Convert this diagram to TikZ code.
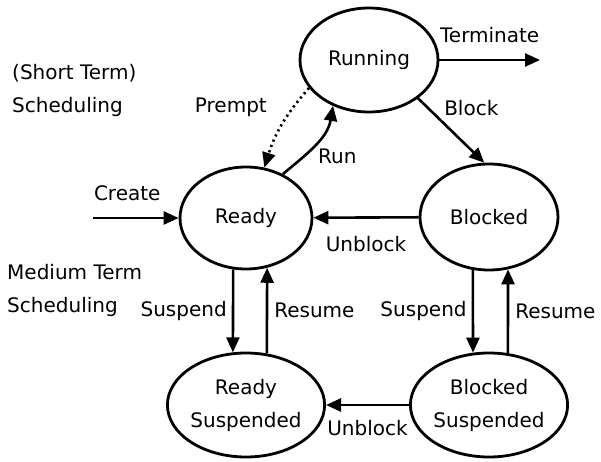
\documentclass[tikz,border=0pt]{standalone}
\usepackage{fontspec}
\setmainfont{DejaVu Sans}
\usetikzlibrary{arrows.meta,positioning,shapes.geometric}

\begin{document}
\begin{tikzpicture}[
  x=1pt, y=-1pt,
  font=\fontsize{20}{33}\selectfont,
  state/.style ={draw, ellipse, line width=2.8pt, minimum width=138pt, minimum height=104pt,
                 inner sep=0pt, align=center},
  ar/.style    ={-{Triangle[length=15pt,width=13pt]}, line width=2.6pt},
  dots/.style  ={ar, dash pattern=on 2.2pt off 3.5pt},
  lbl/.style   ={inner sep=1pt, align=left},
]
\useasboundingbox (0,0) rectangle (601,462);

% --- states ---
\node[state] (run)    at (369,60)  {Running};
\node[state, minimum width=132pt, minimum height=102pt] (ready) at (246,218) {Ready};
\node[state, minimum height=106pt] (blocked) at (489,217) {Blocked};
\node[state, minimum width=134pt] (rsusp) at (246,405) {Ready\\Suspended};
\node[state] (bsusp)  at (489,405) {Blocked\\Suspended};

% --- free ends ---
\coordinate (create) at (93,218);
\coordinate (exit)   at (540,60);

% --- scheduling notes ---
\node[lbl, anchor=west] (short)  at (11,90)  {(Short Term)\\Scheduling};
\node[lbl, anchor=west] (medium) at (6,290)  {Medium Term\\Scheduling};

% --- edges ---
\draw[ar] (create) -- node[lbl, above=15pt, pos=0.4] {Create} (ready);
\draw[ar] (run) -- node[lbl, above=15pt] {Terminate} (exit);
\draw[ar] (run.-38) -- node[lbl, pos=0.15, right=14pt] {Block} (blocked.95);
\draw[ar] (ready.50) to[out=40, in=-100] node[lbl, pos=0.3, right=12pt] {Run} (run.232);
\draw[dots] (run.205) to[bend right=12] node[lbl, pos=0.26, left=24pt] {Prempt} (ready.70);
\draw[ar] (blocked) -- node[lbl, below=16pt] {Unblock} (ready);
\draw[ar] (bsusp) -- node[lbl, below=13pt] {Unblock} (rsusp);

% --- suspend / resume ---
\draw[ar] (ready.-104.6) -- node[lbl, left=4pt] {Suspend} (rsusp.104.3);
\draw[ar] (rsusp.68) -- node[lbl, right=5pt] {Resume} (ready.-67.6);
\draw[ar] (blocked.-107.2) -- node[lbl, left=4pt] {Suspend} (bsusp.107.5);
\draw[ar] (bsusp.70.3) -- node[lbl, right=5pt] {Resume} (blocked.-70.6);
\end{tikzpicture}
\end{document}
